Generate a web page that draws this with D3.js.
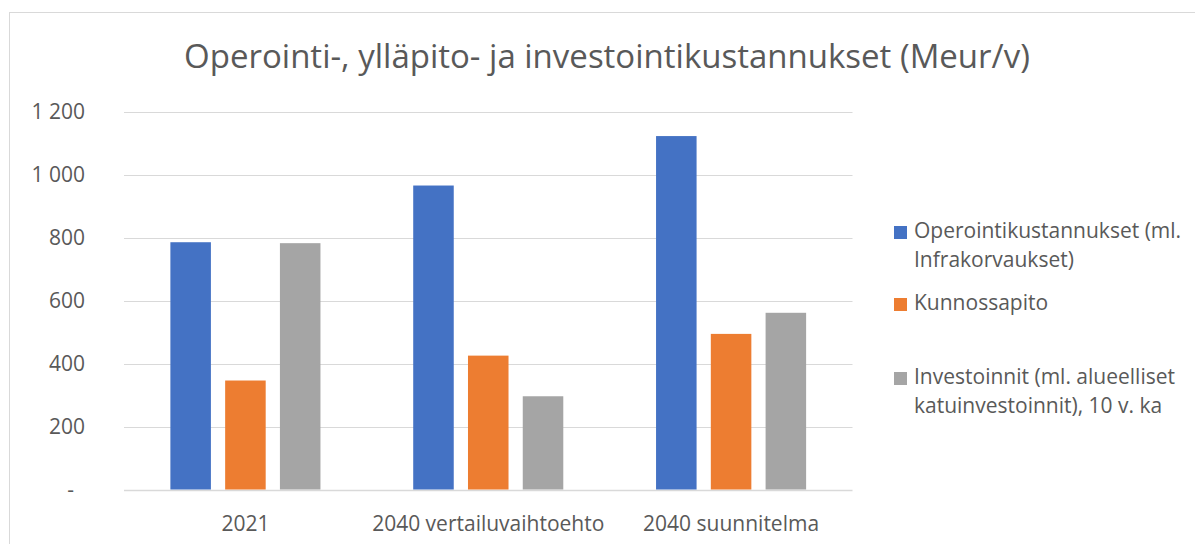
<!DOCTYPE html>
<html lang="fi">
<head>
<meta charset="UTF-8">
<title>Operointi-, ylläpito- ja investointikustannukset</title>
<style>
    body { margin: 0; background: #fff; }
    svg text { font-family: "Open Sans", Lato, sans-serif; fill: #595959; }
</style>
</head>
<body>
<script src="https://cdn.jsdelivr.net/npm/d3@7/dist/d3.min.js"></script>
<div id="chart"></div>
<script>
    var categories = ["2021", "2040 vertailuvaihtoehto", "2040 suunnitelma"];
    var seriesNames = [
        ["Operointikustannukset (ml.", "Infrakorvaukset)"],
        ["Kunnossapito"],
        ["Investoinnit (ml. alueelliset", "katuinvestoinnit), 10 v. ka"]
    ];
    var operointi = [785, 965, 1122];
    var kunnossapito = [346, 425, 494];
    var investoinnit = [782, 296, 561];
    var yTicks = [0, 200, 400, 600, 800, 1000, 1200];
    var colors = ["#4472C4", "#ED7D31", "#A5A5A5"];

    var width = 1195, height = 544;
    var series = [operointi, kunnossapito, investoinnit];

    var svg = d3.select("#chart").append("svg")
        .attr("width", width).attr("height", height);

    // chart frame (only left and top edge are visible in the picture)
    svg.append("rect")
        .attr("x", 9.5).attr("y", 12.5)
        .attr("width", width + 10).attr("height", height + 10)
        .attr("fill", "none").attr("stroke", "#d9d9d9");

    var x0 = d3.scaleBand().domain(categories)
        .range([124, 852.5]).paddingInner(0.382).paddingOuter(0.191);
    var x1 = d3.scaleBand().domain([0, 1, 2])
        .range([0, x0.bandwidth()]).paddingInner(0.26);
    var y = d3.scaleLinear().domain([0, 1200]).range([489.5, 111.5]);

    // gridlines
    svg.append("g").selectAll("line").data(yTicks).enter().append("line")
        .attr("x1", 124).attr("x2", 852.5)
        .attr("y1", function (d) { return Math.round(y(d)) + 0.5; })
        .attr("y2", function (d) { return Math.round(y(d)) + 0.5; })
        .attr("stroke", "#d9d9d9").attr("stroke-width", function (d) { return d === 0 ? 1.5 : 1; });

    // y labels
    svg.append("g").selectAll("text").data(yTicks).enter().append("text")
        .attr("x", function (d) { return d === 0 ? 74 : 85; })
        .attr("y", function (d) { return y(d); })
        .attr("dy", "0.35em")
        .attr("text-anchor", "end")
        .style("font-size", "21px")
        .text(function (d) {
            return d === 0 ? "-" : d3.format(",")(d).replace(",", " ");
        });

    // bars
    var groups = svg.append("g").selectAll("g").data(categories).enter().append("g")
        .attr("transform", function (d) { return "translate(" + x0(d) + ",0)"; });
    groups.selectAll("rect")
        .data(function (d, i) { return series.map(function (s, j) { return {k: j, v: s[i]}; }); })
        .enter().append("rect")
        .attr("x", function (d) { return x1(d.k); })
        .attr("width", x1.bandwidth())
        .attr("y", function (d) { return y(d.v); })
        .attr("height", function (d) { return y(0) - y(d.v); })
        .attr("fill", function (d) { return colors[d.k]; });

    // x labels
    svg.append("g").selectAll("text").data(categories).enter().append("text")
        .attr("x", function (d) { return x0(d) + x0.bandwidth() / 2; })
        .attr("y", 531)
        .attr("text-anchor", "middle")
        .style("font-size", "21px")
        .text(function (d) { return d; });

    // title
    svg.append("text")
        .attr("x", 607).attr("y", 68)
        .attr("text-anchor", "middle")
        .style("font-size", "33px")
        .text("Operointi-, ylläpito- ja investointikustannukset (Meur/v)");

    // legend
    var legendBase = [238, 310, 384];
    var legend = svg.append("g").selectAll("g").data(seriesNames).enter().append("g")
        .attr("transform", function (d, i) { return "translate(894," + legendBase[i] + ")"; });
    legend.append("rect")
        .attr("x", 0).attr("y", -12).attr("width", 13).attr("height", 13)
        .attr("fill", function (d, i) { return colors[i]; });
    legend.append("text")
        .attr("x", 20)
        .style("font-size", "21px")
        .selectAll("tspan").data(function (d) { return d; }).enter().append("tspan")
        .attr("x", 20)
        .attr("dy", function (d, i) { return i === 0 ? 0 : 29; })
        .text(function (d) { return d; });
</script>
</body>
</html>
